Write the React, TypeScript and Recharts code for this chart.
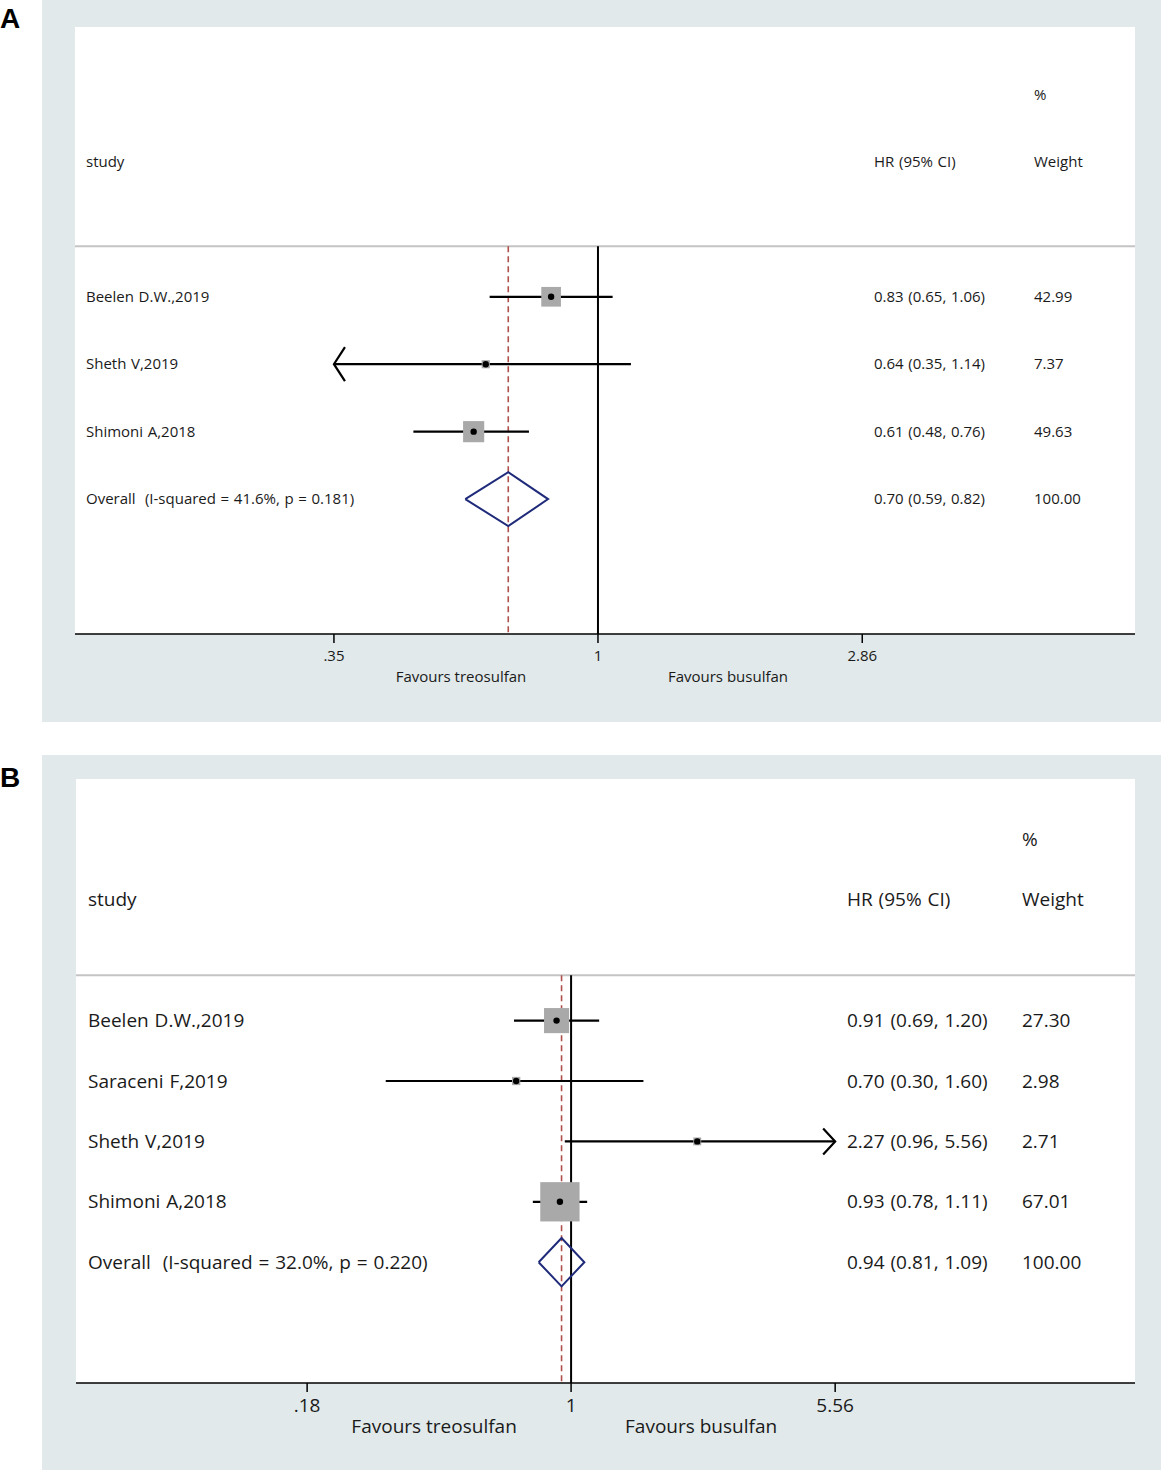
import React from 'react';
import { ComposedChart, XAxis, YAxis, Scatter, Line, ReferenceLine, ReferenceArea } from 'recharts';

// Panel A
const studiesA = ['Beelen D.W.,2019', 'Sheth V,2019', 'Shimoni A,2018'];
const hrA = [0.83, 0.64, 0.61];
const lowerA = [0.65, 0.35, 0.48];
const upperA = [1.06, 1.14, 0.76];
const weightA = [42.99, 7.37, 49.63];
const overallLabelA = 'Overall  (I-squared = 41.6%, p = 0.181)';
const overallA = [0.7, 0.59, 0.82]; // HR, lower, upper
const ticksA = [0.35, 1, 2.86];
const tickLabelsA = ['.35', '1', '2.86'];
const domainA = [0.125, 8.46];

// Panel B
const studiesB = ['Beelen D.W.,2019', 'Saraceni F,2019', 'Sheth V,2019', 'Shimoni A,2018'];
const hrB = [0.91, 0.7, 2.27, 0.93];
const lowerB = [0.69, 0.3, 0.96, 0.78];
const upperB = [1.2, 1.6, 5.56, 1.11];
const weightB = [27.3, 2.98, 2.71, 67.01];
const overallLabelB = 'Overall  (I-squared = 32.0%, p = 0.220)';
const overallB = [0.94, 0.81, 1.09];
const ticksB = [0.18, 1, 5.56];
const tickLabelsB = ['.18', '1', '5.56'];
const domainB = [0.0401, 39.0];

const favourLabels = ['Favours treosulfan', 'Favours busulfan'];

const FONT = '"Open Sans", "Noto Sans", sans-serif';
const ln = Math.log;
const f2 = (v: number) => v.toFixed(2);

interface PanelProps {
  studies: string[];
  hr: number[];
  lower: number[];
  upper: number[];
  weight: number[];
  overallLabel: string;
  overall: number[];
  ticks: number[];
  tickLabels: string[];
  domain: number[];
  top: number;
  height: number;
  margin: { top: number; right: number; bottom: number; left: number };
  fontSize: number;
  cols: number[];
  boxScale: number;
  arrowLen: number;
  arrowHalf: number;
}

const ForestPanel: React.FC<PanelProps> = (p) => {
  const n = p.studies.length;
  const overallRow = 3 + n;
  const bottomRow = overallRow + 2;
  const sepRow = 2.25;
  const tMin = p.ticks[0];
  const tMax = p.ticks[p.ticks.length - 1];

  // text table: one entry per row, drawn at the row's y position
  const textData = [
    { x: 0, y: 0, cells: ['', '', '%'] },
    { x: 0, y: 1, cells: ['study', 'HR (95% CI)', 'Weight'] },
    ...p.studies.map((s, i) => ({
      x: 0,
      y: 3 + i,
      cells: [s, `${f2(p.hr[i])} (${f2(p.lower[i])}, ${f2(p.upper[i])})`, f2(p.weight[i])],
    })),
    {
      x: 0,
      y: overallRow,
      cells: [p.overallLabel, `${f2(p.overall[0])} (${f2(p.overall[1])}, ${f2(p.overall[2])})`, '100.00'],
    },
  ];

  const boxes = p.studies.map((s, i) => ({ x: ln(p.hr[i]), y: 3 + i, w: p.weight[i] }));

  const diamond = [
    { x: ln(p.overall[1]), y: overallRow },
    { x: ln(p.overall[0]), y: overallRow - 0.4 },
    { x: ln(p.overall[2]), y: overallRow },
    { x: ln(p.overall[0]), y: overallRow + 0.4 },
    { x: ln(p.overall[1]), y: overallRow },
  ];

  const textShape = (props: any) => (
    <g fontSize={p.fontSize} fontFamily={FONT} fill="#1a1a1a">
      {props.payload.cells.map((t: string, j: number) => (
        <text
          key={j}
          x={p.cols[j]}
          y={props.cy}
          dy="0.35em"
          style={{ whiteSpace: 'pre', wordSpacing: p.fontSize * 0.05 }}
        >
          {t}
        </text>
      ))}
    </g>
  );

  const XTick = (props: any) => {
    const v = props.payload.value;
    const idx = p.ticks.findIndex((t) => Math.abs(ln(t) - v) < 1e-6);
    return (
      <g fontFamily={FONT} fontSize={p.fontSize} fill="#1a1a1a">
        <text x={props.x} y={props.y + 11} dy="0.35em" textAnchor="middle">
          {idx >= 0 ? p.tickLabels[idx] : ''}
        </text>
        {Math.abs(v) < 1e-9 && (
          <>
            <text x={props.x - 137} y={props.y + 32} dy="0.35em" textAnchor="middle">
              {favourLabels[0]}
            </text>
            <text x={props.x + 130} y={props.y + 32} dy="0.35em" textAnchor="middle">
              {favourLabels[1]}
            </text>
          </>
        )}
      </g>
    );
  };

  const ciShape = (left: boolean, right: boolean) => (props: any) => {
    const { x1, y1, x2, y2 } = props;
    const L = p.arrowLen;
    const H = p.arrowHalf;
    return (
      <g stroke="#000" strokeWidth={2.2} fill="none">
        <line x1={x1} y1={y1} x2={x2} y2={y2} />
        {left && <polyline points={`${x1 + L},${y1 - H} ${x1},${y1} ${x1 + L},${y1 + H}`} />}
        {right && <polyline points={`${x2 - L},${y2 - H} ${x2},${y2} ${x2 - L},${y2 + H}`} />}
      </g>
    );
  };

  return (
    <div style={{ position: 'absolute', left: 0, top: p.top, width: 1161, height: p.height }}>
      <div
        style={{
          position: 'absolute',
          left: 42,
          top: 0,
          width: 1119,
          height: p.height - 1,
          background: '#e1e9ea',
        }}
      />
      <div style={{ position: 'absolute', left: 0, top: 0 }}>
        <ComposedChart width={1161} height={p.height} margin={p.margin}>
          <ReferenceArea
            x1={ln(p.domain[0])}
            x2={ln(p.domain[1])}
            y1={-1}
            y2={bottomRow}
            fill="#ffffff"
            fillOpacity={1}
            stroke="none"
          />
          <ReferenceLine y={sepRow} stroke="#c4c4c4" strokeWidth={2} />
          <ReferenceLine
            segment={[
              { x: 0, y: sepRow },
              { x: 0, y: bottomRow },
            ]}
            stroke="#000"
            strokeWidth={2}
          />
          <ReferenceLine
            segment={[
              { x: ln(p.overall[0]), y: sepRow },
              { x: ln(p.overall[0]), y: bottomRow },
            ]}
            stroke="#b0504c"
            strokeWidth={1.6}
            strokeDasharray="6 4"
          />
          <Scatter
            data={boxes}
            isAnimationActive={false}
            shape={(props: any) => {
              const s = p.boxScale * Math.sqrt(props.payload.w);
              return <rect x={props.cx - s / 2} y={props.cy - s / 2} width={s} height={s} fill="#a9a9a9" />;
            }}
          />
          {p.studies.map((s, i) => (
            <ReferenceLine
              key={s}
              segment={[
                { x: ln(Math.max(p.lower[i], tMin)), y: 3 + i },
                { x: ln(Math.min(p.upper[i], tMax)), y: 3 + i },
              ]}
              shape={ciShape(p.lower[i] <= tMin, p.upper[i] >= tMax)}
            />
          ))}
          <Scatter
            data={boxes}
            isAnimationActive={false}
            shape={(props: any) => <circle cx={props.cx} cy={props.cy} r={3.2} fill="#000" />}
          />
          <Line
            data={diamond}
            dataKey="y"
            type="linear"
            stroke="#1f2b7a"
            strokeWidth={2}
            dot={false}
            activeDot={false}
            isAnimationActive={false}
          />
          <Scatter data={textData} isAnimationActive={false} shape={textShape} />
          <XAxis
            type="number"
            dataKey="x"
            domain={[ln(p.domain[0]), ln(p.domain[1])]}
            allowDataOverflow
            ticks={p.ticks.map(ln)}
            interval={0}
            height={40}
            tickSize={9}
            axisLine={{ stroke: '#000', strokeWidth: 1.5 }}
            tickLine={{ stroke: '#000', strokeWidth: 1.5 }}
            tick={<XTick />}
          />
          <YAxis type="number" dataKey="y" domain={[-1, bottomRow]} reversed allowDataOverflow hide />
        </ComposedChart>
      </div>
    </div>
  );
};

const Letter: React.FC<{ text: string; top: number }> = ({ text, top }) => (
  <div
    style={{
      position: 'absolute',
      left: 0,
      top,
      fontFamily: '"Liberation Sans", Arial, sans-serif',
      fontWeight: 'bold',
      fontSize: 28,
      lineHeight: '28px',
      color: '#000',
    }}
  >
    {text}
  </div>
);

export default function App() {
  return (
    <div style={{ position: 'absolute', left: 0, top: 0, width: 1161, height: 1473, background: '#fff' }}>
      <ForestPanel
        studies={studiesA}
        hr={hrA}
        lower={lowerA}
        upper={upperA}
        weight={weightA}
        overallLabel={overallLabelA}
        overall={overallA}
        ticks={ticksA}
        tickLabels={tickLabelsA}
        domain={domainA}
        top={0}
        height={723}
        margin={{ top: 27, right: 26, bottom: 49, left: 75 }}
        fontSize={15}
        cols={[86, 874, 1034]}
        boxScale={3.0}
        arrowLen={11}
        arrowHalf={17}
      />
      <ForestPanel
        studies={studiesB}
        hr={hrB}
        lower={lowerB}
        upper={upperB}
        weight={weightB}
        overallLabel={overallLabelB}
        overall={overallB}
        ticks={ticksB}
        tickLabels={tickLabelsB}
        domain={domainB}
        top={755}
        height={716}
        margin={{ top: 24, right: 26, bottom: 48, left: 76 }}
        fontSize={19}
        cols={[88, 847, 1022]}
        boxScale={4.8}
        arrowLen={12}
        arrowHalf={13}
      />
      <Letter text="A" top={5} />
      <Letter text="B" top={764} />
    </div>
  );
}
